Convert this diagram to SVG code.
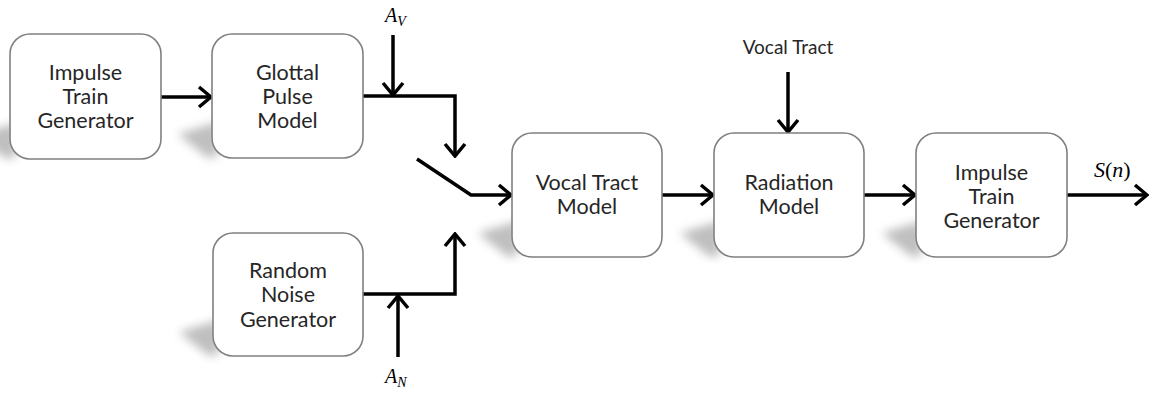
<svg xmlns="http://www.w3.org/2000/svg" width="1150" height="394" viewBox="0 0 1150 394">
<style>
.box{fill:#fff;stroke:#808080;stroke-width:1.6}
.lbl{font-family:Lato,"Open Sans",sans-serif;font-size:21.5px;fill:#262626;text-anchor:middle}
.ln{fill:none;stroke:#000;stroke-width:3.5}
.math{font-family:"Liberation Serif","DejaVu Serif",serif;font-style:italic;fill:#000}
.sh{fill:#808080;opacity:0.5;filter:url(#blur)}
</style>
<defs>
<filter id="blur" x="-50%" y="-50%" width="200%" height="200%"><feGaussianBlur stdDeviation="5"/></filter>
<marker id="ah" markerWidth="16" markerHeight="24" refX="14" refY="12" orient="auto" markerUnits="userSpaceOnUse">
<path d="M2,2 L14,12 L2,22" fill="none" stroke="#000" stroke-width="3.5"/>
</marker>
<path id="shadow" d="M-34,-24 L6,-36 L6,-2 L-4,0 Z"/>
</defs>

<g id="shadows">
<use href="#shadow" class="sh" x="10" y="159"/>
<use href="#shadow" class="sh" x="212" y="158"/>
<use href="#shadow" class="sh" x="213" y="356"/>
<use href="#shadow" class="sh" x="512" y="257"/>
<use href="#shadow" class="sh" x="714" y="257"/>
<use href="#shadow" class="sh" x="916" y="257"/>
</g>

<g id="connectors">
<line class="ln" x1="161" y1="97" x2="211" y2="97" marker-end="url(#ah)"/>
<line class="ln" x1="393" y1="35" x2="393" y2="95" marker-end="url(#ah)"/>
<polyline class="ln" points="363,96 455,96 455,156" marker-end="url(#ah)"/>
<polyline class="ln" points="417,159 471,195 511,195" marker-end="url(#ah)"/>
<polyline class="ln" points="363,294 455,294 455,234" marker-end="url(#ah)"/>
<line class="ln" x1="398" y1="357" x2="398" y2="296" marker-end="url(#ah)"/>
<line class="ln" x1="662" y1="195" x2="713" y2="195" marker-end="url(#ah)"/>
<line class="ln" x1="788" y1="72" x2="788" y2="132" marker-end="url(#ah)"/>
<line class="ln" x1="864" y1="195" x2="915" y2="195" marker-end="url(#ah)"/>
<line class="ln" x1="1067" y1="195" x2="1147" y2="195" marker-end="url(#ah)"/>
</g>

<g id="impulse1">
<rect class="box" x="10" y="34" width="151" height="125" rx="20"/>
<text class="lbl" x="85.5" y="80">Impulse</text>
<text class="lbl" x="85.5" y="104">Train</text>
<text class="lbl" x="85.5" y="128">Generator</text>
</g>
<g id="glottal">
<rect class="box" x="212" y="34" width="151" height="124" rx="20"/>
<text class="lbl" x="287.5" y="80">Glottal</text>
<text class="lbl" x="287.5" y="104">Pulse</text>
<text class="lbl" x="287.5" y="128">Model</text>
</g>
<g id="noise">
<rect class="box" x="213" y="233" width="150" height="123" rx="20"/>
<text class="lbl" x="288" y="278">Random</text>
<text class="lbl" x="288" y="302">Noise</text>
<text class="lbl" x="288" y="327">Generator</text>
</g>
<g id="vocal">
<rect class="box" x="512" y="133" width="150" height="124" rx="20"/>
<text class="lbl" x="587" y="190">Vocal Tract</text>
<text class="lbl" x="587" y="214">Model</text>
</g>
<g id="radiation">
<rect class="box" x="714" y="133" width="150" height="124" rx="20"/>
<text class="lbl" x="789" y="190">Radiation</text>
<text class="lbl" x="789" y="214">Model</text>
</g>
<g id="impulse2">
<rect class="box" x="916" y="133" width="151" height="124" rx="20"/>
<text class="lbl" x="991.5" y="180">Impulse</text>
<text class="lbl" x="991.5" y="204">Train</text>
<text class="lbl" x="991.5" y="228">Generator</text>
</g>

<g id="labels">
<text class="lbl" x="788" y="54" style="font-size:19px">Vocal Tract</text>
<text class="math" x="385" y="22" font-size="20">A<tspan font-size="14" dy="4">V</tspan></text>
<text class="math" x="385" y="383" font-size="20">A<tspan font-size="14" dy="4">N</tspan></text>
<text class="math" x="1094" y="177" font-size="22">S<tspan font-style="normal">(</tspan>n<tspan font-style="normal">)</tspan></text>
</g>
</svg>
